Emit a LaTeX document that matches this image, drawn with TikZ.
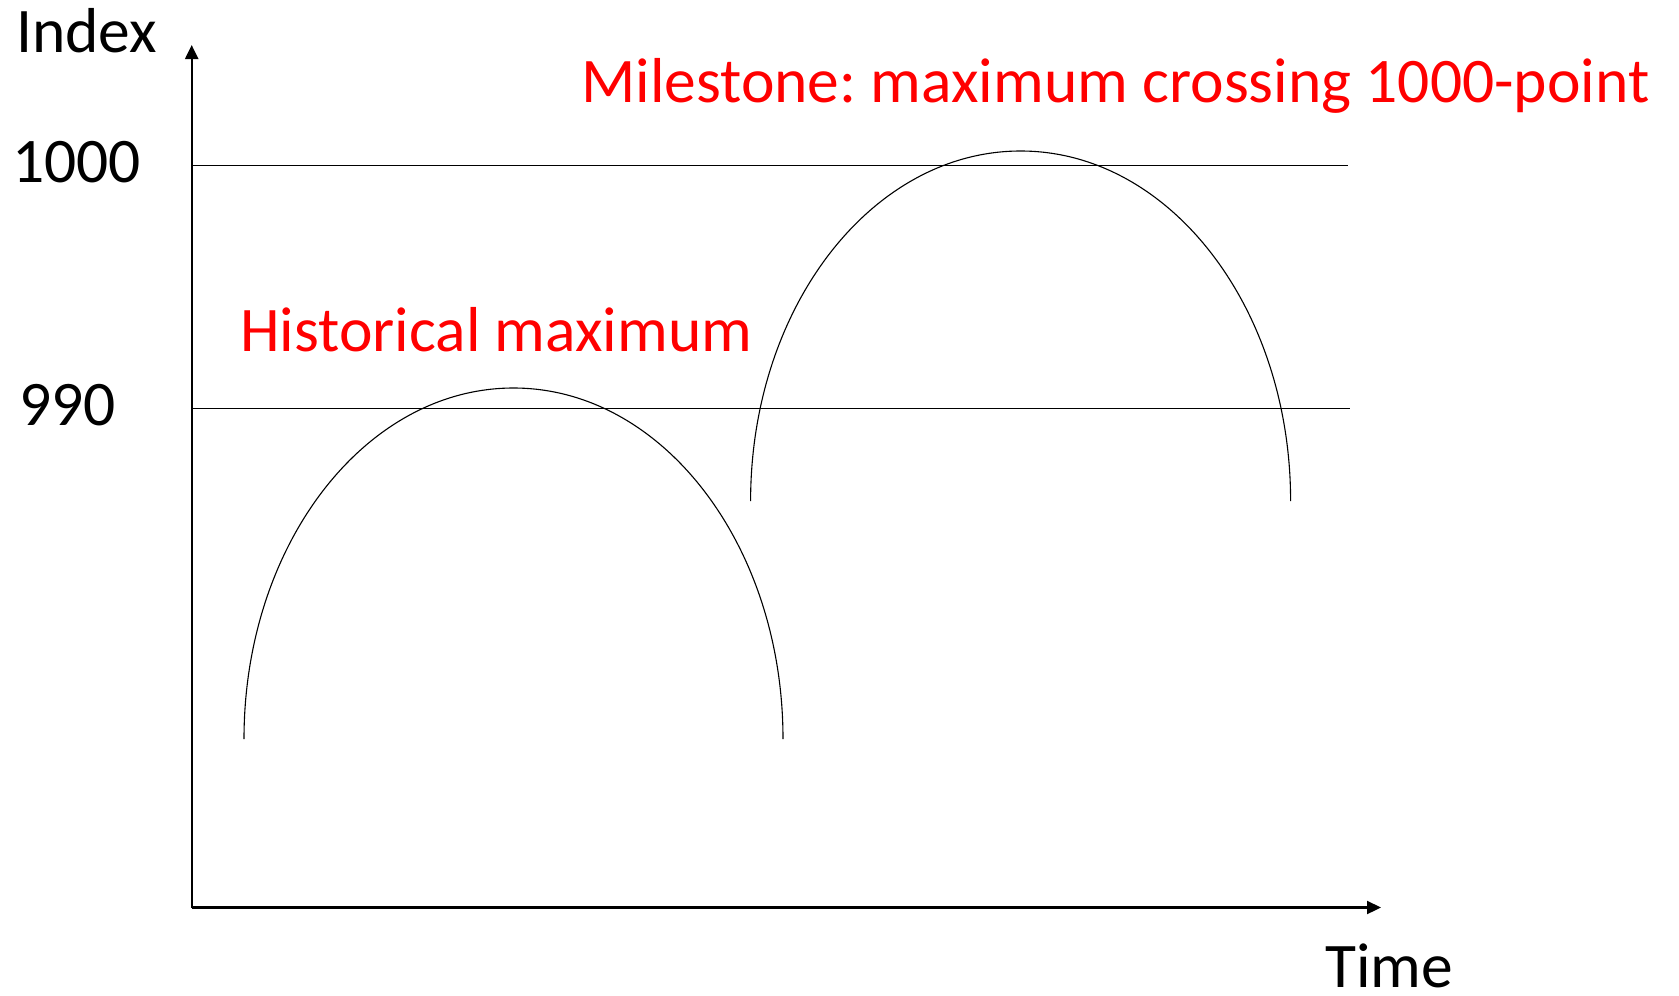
\documentclass[tikz,border=0pt]{standalone}
\usepackage{fontspec}
\setmainfont{Carlito}
\frenchspacing
\usetikzlibrary{arrows.meta}
\begin{document}
\begin{tikzpicture}[x=1pt,y=-1pt,
  lbl/.style={inner sep=0pt,anchor=base west,font=\fontsize{63.5}{70}\selectfont},
  redlbl/.style={lbl,text={rgb,255:red,255;green,0;blue,0}},
  axis/.style={line width=2.2pt,-{Triangle[length=14pt,width=13pt]}},
  level/.style={line width=1.1pt},
  arch/.style={line width=1.1pt}]
\useasboundingbox (0,0) rectangle (1679,996);
\coordinate (O) at (191.7,907.5);
\coordinate (ytip) at (191.7,45);
\coordinate (xtip) at (1381,907.5);
\draw[axis] (O) -- (ytip);
\draw[axis] (O) -- (xtip);
\coordinate (l1a) at (191.7,165.5);
\coordinate (l1b) at (1348,165.5);
\coordinate (l2a) at (191.7,408.5);
\coordinate (l2b) at (1350,408.5);
\draw[level] (l1a) -- (l1b);
\draw[level] (l2a) -- (l2b);
\coordinate (a1) at (244,739);
\coordinate (a2) at (750.6,501);
\draw[arch] (a1) arc[start angle=180,end angle=360,x radius=269.5,y radius=351];
\draw[arch] (a2) arc[start angle=180,end angle=360,x radius=270,y radius=350];
\node[lbl] (index) at (16,52) {Index};
\node[lbl] (k1000) at (12,182) {1000};
\node[lbl] (k990) at (19,425) {990};
\node[lbl] (time) at (1325,987) {Time};
\node[redlbl] (hist) at (240,351) {Historical maximum};
\node[redlbl] (mile) at (581,102) {Milestone: maximum crossing 1000-point};
\end{tikzpicture}
\end{document}
